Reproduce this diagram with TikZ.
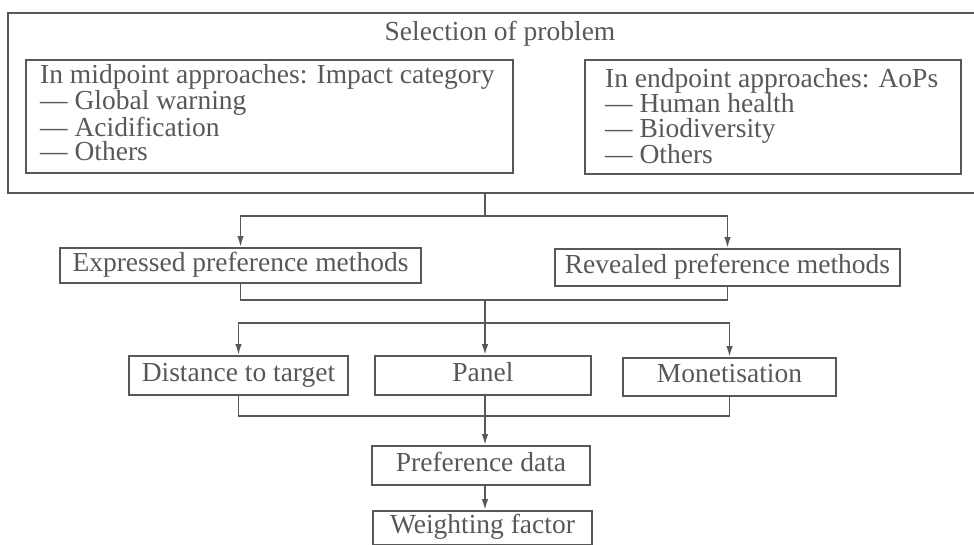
\documentclass[tikz,border=0pt]{standalone}
\usepackage{fontspec}
\setmainfont{Liberation Serif}
\usetikzlibrary{arrows.meta}

\definecolor{ink}{RGB}{88,88,88}

\tikzset{
  frame/.style={draw=ink, line width=1.8pt, inner sep=0pt, text=ink,
    font=\fontsize{27.5pt}{24.5pt}\selectfont, text height=18pt, text depth=7pt},
  label/.style={text=ink, inner sep=0pt, font=\fontsize{27.5pt}{24.5pt}\selectfont},
  link/.style={draw=ink, line width=1.8pt},
  flow/.style={link, -{Latex[length=11pt,width=6.5pt]}}
}

\begin{document}
\begin{tikzpicture}[x=1pt,y=-1pt]
\useasboundingbox (0,0) rectangle (974,544);

% problem selection block
\node[frame, minimum width=982pt, minimum height=180pt] (outer) at (499,103) {};
\node[label, anchor=base] (title) at (500,40) {Selection of problem};

% lists are anchored on the baseline of their last line
\node[frame, minimum width=487pt, minimum height=113pt] (midbox) at (269.5,116.5) {};
\node[label, anchor=base west, align=left] (midtext) at (40,160.5)
  {In midpoint approaches: Impact category\\— Global warning\\— Acidification\\— Others};

\node[frame, minimum width=376pt, minimum height=114pt] (endbox) at (773,117) {};
\node[label, anchor=base west, align=left] (endtext) at (605,163.5)
  {In endpoint approaches: AoPs\\— Human health\\— Biodiversity\\— Others};

% preference methods
\node[frame, minimum width=361pt, minimum height=35pt] (expressed) at (240.5,265.5) {Expressed preference methods};
\node[frame, minimum width=345pt, minimum height=37pt] (revealed) at (727.5,267.5) {Revealed preference methods};

% weighting approaches
\node[frame, minimum width=219pt, minimum height=39pt] (distance) at (238.5,375.5) {Distance to target};
\node[frame, minimum width=216pt, minimum height=39pt] (panel) at (483,375.5) {Panel};
\node[frame, minimum width=213pt, minimum height=38pt] (monet) at (729.5,377) {Monetisation};

% results
\node[frame, minimum width=218pt, minimum height=39pt] (prefdata) at (481,465.5) {Preference data};
\node[frame, minimum width=219pt, minimum height=34pt] (weight) at (482.5,528) {Weighting factor};

% junction points on the trunk
\coordinate (t1) at (485,216);
\coordinate (t2) at (485,300);
\coordinate (t3) at (485,323);
\coordinate (t4) at (485,416);

\draw[link] (t1 |- outer.south) -- (t1);
\draw[flow] (t1) -| (expressed.north);
\draw[flow] (t1) -| (revealed.north);

\draw[link] (expressed.south) |- (t2);
\draw[link] (revealed.south) |- (t2);
\draw[link] (t2) -- (t3);
\draw[flow] (t3) -| (distance.north);
\draw[flow] (t3) -- (t3 |- panel.north);
\draw[flow] (t3) -| (monet.north);

\draw[link] (distance.south) |- (t4);
\draw[link] (monet.south) |- (t4);
\draw[flow] (t4 |- panel.south) -- (t4 |- prefdata.north);
\draw[flow] (t4 |- prefdata.south) -- (t4 |- weight.north);
\end{tikzpicture}
\end{document}
